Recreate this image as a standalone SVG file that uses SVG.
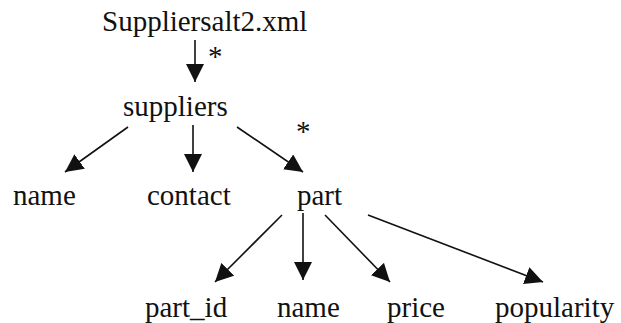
<svg xmlns="http://www.w3.org/2000/svg" width="621" height="323" viewBox="0 0 621 323">
<style>
text{font-family:"Liberation Serif","Times New Roman",serif;font-size:29px;fill:#111}
.c line{stroke:#111;stroke-width:1.6;marker-end:url(#ah)}
</style>
<defs>
<marker id="ah" markerUnits="userSpaceOnUse" markerWidth="20" markerHeight="18" refX="18" refY="9" orient="auto">
<path d="M0,0 L18,9 L0,18 Z" fill="#111"/>
</marker>
</defs>
<rect width="621" height="323" fill="#fff"/>
<g class="c" id="connectors">
<line x1="195" y1="40" x2="195" y2="82"/>
<line x1="128" y1="127" x2="65" y2="172"/>
<line x1="193" y1="125" x2="193" y2="172"/>
<line x1="237" y1="127" x2="303" y2="172"/>
<line x1="282" y1="215" x2="215" y2="282"/>
<line x1="303" y1="213" x2="303" y2="280"/>
<line x1="325" y1="215" x2="390" y2="282"/>
<line x1="368" y1="215" x2="543" y2="282"/>
<text x="208" y="66">*</text>
<text x="296" y="141">*</text>
</g>
<g id="root"><text x="102" y="31">Suppliersalt2.xml</text></g>
<g id="suppliers"><text x="123" y="116">suppliers</text></g>
<g id="name1"><text x="13" y="205">name</text></g>
<g id="contact"><text x="147" y="205">contact</text></g>
<g id="part"><text x="297" y="205">part</text></g>
<g id="part_id"><text x="145" y="317">part_id</text></g>
<g id="name2"><text x="277" y="317">name</text></g>
<g id="price"><text x="387" y="317">price</text></g>
<g id="popularity"><text x="495" y="317">popularity</text></g>
</svg>
